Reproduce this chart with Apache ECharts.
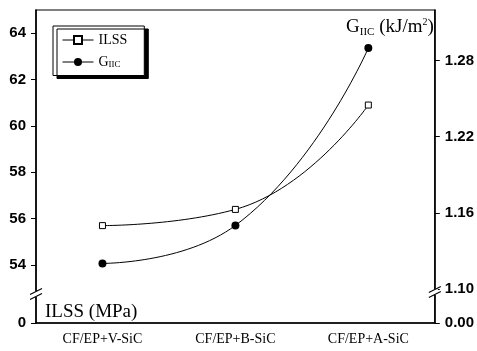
<!DOCTYPE html>
<html>
<head>
<meta charset="utf-8">
<script src="https://cdn.jsdelivr.net/npm/echarts@6/dist/echarts.min.js"></script>
<style>html,body{margin:0;padding:0;background:#fff}#c{width:477px;height:351px}</style>
</head>
<body>
<div id="c"></div>
<script>
var categories = ['CF/EP+V-SiC', 'CF/EP+B-SiC', 'CF/EP+A-SiC'];
var ilss = [55.7, 56.4, 60.9];
var giic = [1.12, 1.15, 1.29];
var leftTicks = [54, 56, 58, 60, 62, 64];
var rightTicks = [1.10, 1.16, 1.22, 1.28];
var leftBreakLabel = '0';
var rightBreakLabel = '0.00';
var leftMin = 51.5, leftMax = 65;
var rightMin = 1.073, rightMax = 1.32;

var chart = echarts.init(document.getElementById('c'), null, {renderer: 'canvas'});
var serif = '"Liberation Serif", "Times New Roman", serif';
var sans = '"Liberation Sans", Arial, sans-serif';

var option = {
  animation: false,
  backgroundColor: '#fff',
  grid: {left: 36, right: 42, top: 10, bottom: 28, show: true, borderColor: '#000', borderWidth: 1.2, backgroundColor: 'transparent'},
  legend: {
    left: 53, top: 26, orient: 'vertical',
    padding: [7, 17, 6, 9], itemGap: 8, itemWidth: 31, itemHeight: 10,
    backgroundColor: '#fff', borderColor: '#000', borderWidth: 1,
    shadowColor: '#000', shadowBlur: 0, shadowOffsetX: 4, shadowOffsetY: 3,
    lineStyle: {width: 1},
    textStyle: {
      fontFamily: serif, fontSize: 14, color: '#000',
      rich: {
        g: {fontFamily: serif, fontSize: 14, color: '#000'},
        s: {fontFamily: serif, fontSize: 9, color: '#000', verticalAlign: 'bottom', padding: [6, 0, 0, 0]}
      }
    },
    formatter: function (n) { return n === 'GIIC' ? '{g|G}{s|IIC}' : n; },
    data: ['ILSS', 'GIIC']
  },
  xAxis: {
    type: 'category', data: categories, boundaryGap: true,
    axisLine: {lineStyle: {color: '#000', width: 1.5}},
    axisTick: {alignWithLabel: true, length: 4, lineStyle: {color: '#000'}},
    axisLabel: {fontFamily: serif, fontSize: 14, color: '#000', margin: 9},
    splitLine: {show: false}
  },
  yAxis: [
    {
      type: 'value', min: leftMin, max: leftMax, position: 'left',
      name: 'ILSS (MPa)', nameLocation: 'start', nameGap: -20,
      nameTextStyle: {fontFamily: serif, fontSize: 19, color: '#000', align: 'left', padding: [0, 0, 0, 9]},
      axisLine: {show: true, lineStyle: {color: '#000', width: 1.5}},
      axisTick: {show: true, length: 5, lineStyle: {color: '#000'}, customValues: [leftMin].concat(leftTicks)},
      axisLabel: {fontFamily: sans, fontSize: 15, fontWeight: 'bold', color: '#000', margin: 10,
        customValues: [leftMin].concat(leftTicks),
        formatter: function (v) { return Math.abs(v - leftMin) < 1e-6 ? leftBreakLabel : String(v); }},
      splitLine: {show: false}
    },
    {
      type: 'value', min: rightMin, max: rightMax, position: 'right',
      name: '{g|G}{s|IIC}{g| (kJ/m}{sup|2}{g|)}', nameLocation: 'end', nameGap: -28,
      nameTextStyle: {
        align: 'right', padding: [0, 1, 0, 0], color: '#000',
        rich: {
          g: {fontFamily: serif, fontSize: 19, color: '#000'},
          s: {fontFamily: serif, fontSize: 11, color: '#000', verticalAlign: 'bottom', padding: [10, 0, 0, 0]},
          sup: {fontFamily: serif, fontSize: 10, color: '#000', verticalAlign: 'top', padding: [0, 0, 10, 0]}
        }
      },
      axisLine: {show: true, lineStyle: {color: '#000', width: 1.5}},
      axisTick: {show: true, length: 5, lineStyle: {color: '#000'}, customValues: [rightMin].concat(rightTicks)},
      axisLabel: {fontFamily: sans, fontSize: 15, fontWeight: 'bold', color: '#000', margin: 10,
        customValues: [rightMin].concat(rightTicks),
        formatter: function (v) { return Math.abs(v - rightMin) < 1e-6 ? rightBreakLabel : v.toFixed(2); }},
      splitLine: {show: false}
    }
  ],
  series: [
    {
      name: 'ILSS', type: 'line', yAxisIndex: 0, data: ilss, smooth: 0.5,
      symbol: 'rect', symbolSize: 6,
      itemStyle: {color: '#fff', borderColor: '#000', borderWidth: 1},
      lineStyle: {color: '#000', width: 1}
    },
    {
      name: 'GIIC', type: 'line', yAxisIndex: 1, data: giic, smooth: 0.5,
      symbol: 'circle', symbolSize: 8,
      itemStyle: {color: '#000', borderColor: '#000', borderWidth: 0},
      lineStyle: {color: '#000', width: 1}
    }
  ]
};
chart.setOption(option);

// axis break marks "//"
function breakMark(xPix, yPix) {
  var els = [{type: 'rect', shape: {x: xPix - 3, y: yPix - 3, width: 6, height: 6}, style: {fill: '#fff'}, z: 100, silent: true}];
  [-2.5, 2.5].forEach(function (d) {
    els.push({type: 'line', shape: {x1: xPix - 6, y1: yPix + d + 3, x2: xPix + 6, y2: yPix + d - 3},
      style: {stroke: '#000', lineWidth: 1.2}, z: 101, silent: true});
  });
  return els;
}
var gridRect = chart.getModel().getComponent('grid', 0).coordinateSystem.getRect();
var ly = chart.convertToPixel({yAxisIndex: 0}, 52.75);
var ry = chart.convertToPixel({yAxisIndex: 1}, 1.0975);
var g = [].concat(breakMark(gridRect.x, ly), breakMark(gridRect.x + gridRect.width, ry));
chart.setOption({graphic: g});
</script>
</body>
</html>
